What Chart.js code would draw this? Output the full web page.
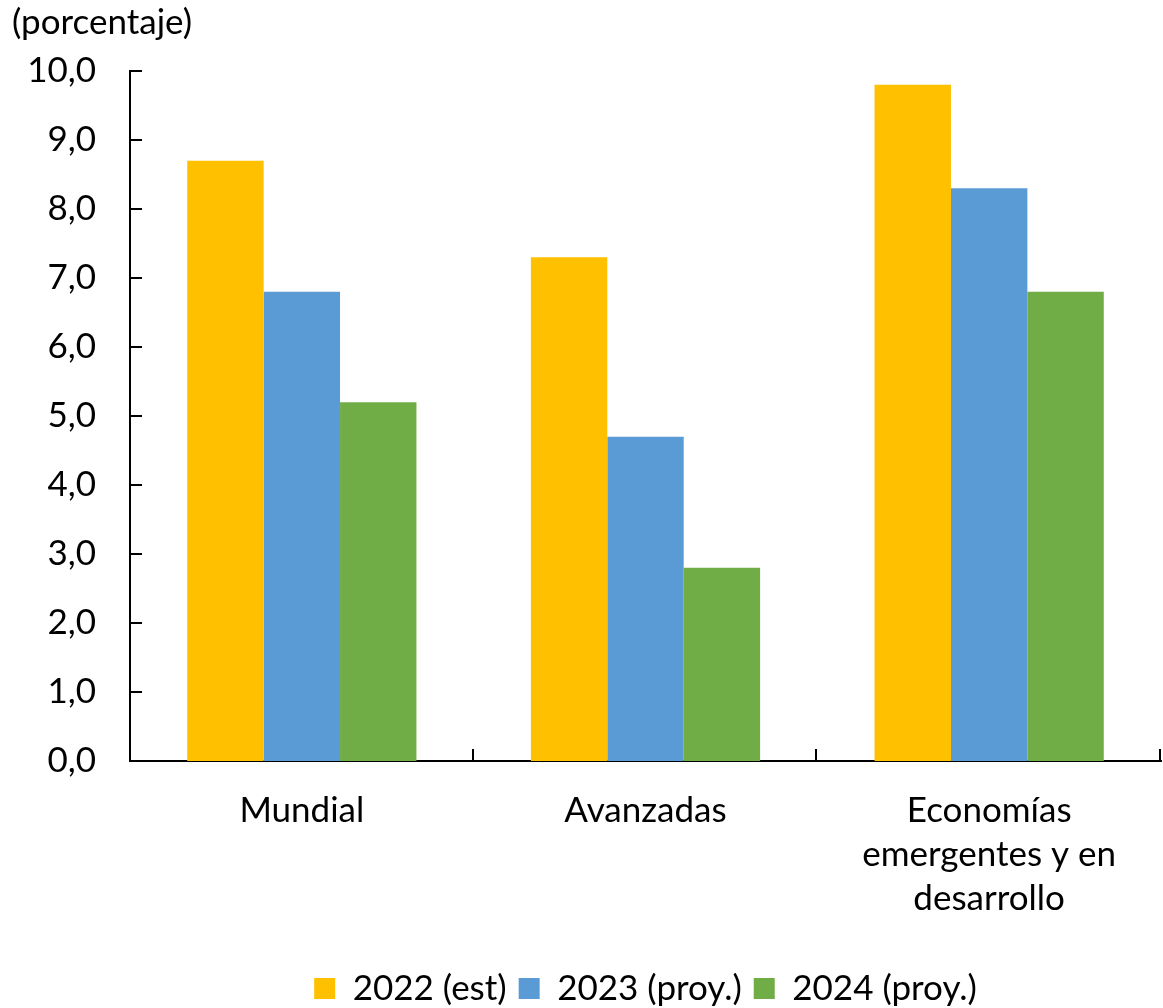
<!DOCTYPE html>
<html>
<head>
<meta charset="utf-8">
<script src="https://cdn.jsdelivr.net/npm/chart.js@4.4.1/dist/chart.umd.min.js"></script>
<style>
  html, body { margin: 0; padding: 0; background: #fff; }
  #wrap { width: 1163px; height: 1008px; position: relative; }
</style>
</head>
<body>
<div id="wrap"><canvas id="c" width="1163" height="1008"></canvas></div>
<script>
const categories = [["Mundial"], ["Avanzadas"], ["Economías", "emergentes y en", "desarrollo"]];
const seriesNames = ["2022 (est)", "2023 (proy.)", "2024 (proy.)"];
const values2022 = [8.7, 7.3, 9.8];
const values2023 = [6.8, 4.7, 8.3];
const values2024 = [5.2, 2.8, 6.8];
const yTickValues = [0, 1, 2, 3, 4, 5, 6, 7, 8, 9, 10];
const yTickLabels = ["0,0", "1,0", "2,0", "3,0", "4,0", "5,0", "6,0", "7,0", "8,0", "9,0", "10,0"];
const colors = ["#FFC000", "#5B9BD5", "#70AD47"];
const FONT = "Lato, 'Open Sans', sans-serif";

const innerTicks = {
  id: 'innerTicks',
  afterDraw(chart) {
    const ctx = chart.ctx;
    const ca = chart.chartArea;
    const y = chart.scales.y;
    ctx.save();
    ctx.strokeStyle = '#000';
    ctx.lineWidth = 2;
    ctx.beginPath();
    y.ticks.forEach(t => {
      const py = Math.round(y.getPixelForValue(t.value));
      ctx.moveTo(ca.left, py);
      ctx.lineTo(ca.left + 12, py);
    });
    const n = categories.length;
    const w = (ca.right - ca.left) / n;
    for (let k = 1; k <= n; k++) {
      const px = Math.round(ca.left + k * w) - 1;
      ctx.moveTo(px, ca.bottom);
      ctx.lineTo(px, ca.bottom - 12);
    }
    ctx.stroke();
    ctx.restore();
  }
};

new Chart(document.getElementById('c'), {
  type: 'bar',
  data: {
    labels: categories,
    datasets: [
      { label: seriesNames[0], data: values2022, backgroundColor: colors[0] },
      { label: seriesNames[1], data: values2023, backgroundColor: colors[1] },
      { label: seriesNames[2], data: values2024, backgroundColor: colors[2] }
    ]
  },
  options: {
    responsive: false,
    animation: false,
    devicePixelRatio: 1,
    layout: { padding: { left: 12, right: 2, top: 0, bottom: -8 } },
    datasets: { bar: { categoryPercentage: 0.667, barPercentage: 1.0 } },
    plugins: {
      title: {
        display: true,
        text: '(porcentaje)',
        align: 'start',
        color: '#000',
        font: { family: FONT, size: 35, weight: 'normal', lineHeight: 1.2 },
        padding: { top: 2, bottom: 27 }
      },
      legend: {
        position: 'bottom',
        fullSize: false,
        labels: {
          color: '#000',
          font: { family: FONT, size: 35 },
          boxWidth: 21,
          boxHeight: 21,
          padding: 12
        }
      },
      tooltip: { enabled: false }
    },
    scales: {
      x: {
        grid: { display: false, drawTicks: false },
        border: { display: true, color: '#000', width: 2 },
        ticks: {
          color: '#000',
          font: { family: FONT, size: 35, lineHeight: 1.25 },
          padding: 28,
          maxRotation: 0,
          autoSkip: false
        },
        afterFit(scale) { scale.height = 198; }
      },
      y: {
        min: 0,
        max: 10,
        afterBuildTicks(scale) { scale.ticks = yTickValues.map(v => ({ value: v })); },
        grid: { display: false, drawTicks: false },
        border: { display: true, color: '#000', width: 2 },
        ticks: {
          color: '#000',
          font: { family: FONT, size: 35 },
          padding: 34,
          callback: (v) => yTickLabels[yTickValues.indexOf(v)]
        },
        afterFit(scale) { scale.width = 118; }
      }
    }
  },
  plugins: [innerTicks]
});
</script>
</body>
</html>
